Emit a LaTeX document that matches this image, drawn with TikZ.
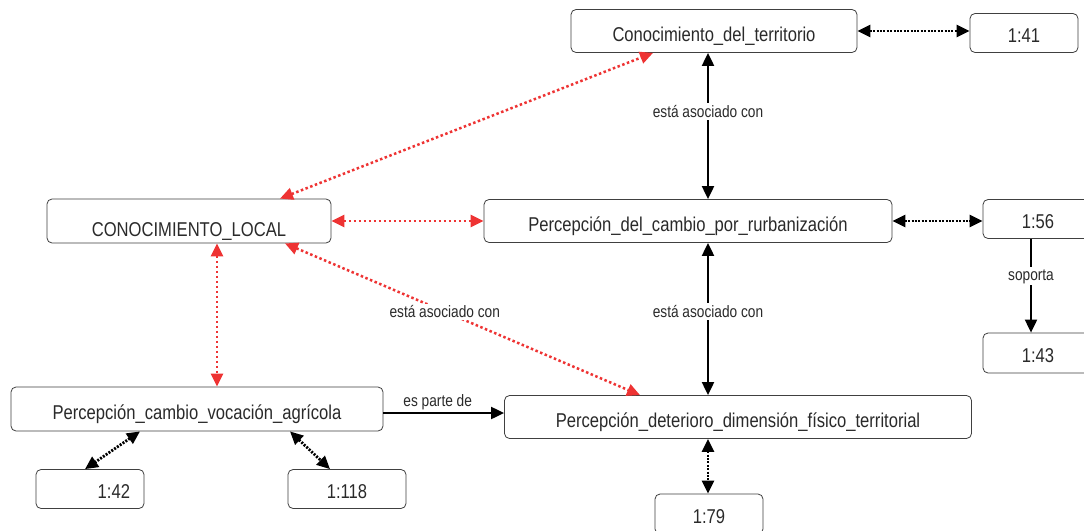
\documentclass[tikz,border=0pt]{standalone}
\usepackage{fontspec}
\setmainfont[FakeStretch=0.83]{Liberation Sans}
\usepackage{tikz}
\usetikzlibrary{arrows.meta,positioning}
\definecolor{relred}{HTML}{EE3333}
\definecolor{ink}{HTML}{2A2A2A}
\newcommand\boxfont{\fontsize{20}{22}\selectfont}
\newcommand\lblfont{\fontsize{16.5}{18}\selectfont}

\begin{document}
\begin{tikzpicture}[x=1pt,y=-1pt,
  bigtri/.tip={Triangle[length=13pt,width=12pt]},
  concept/.style={draw=black!75,rounded corners=5pt,line width=0.8pt,
    minimum height=43pt,inner xsep=6pt,font=\boxfont,text=ink,
    text height=21pt,text depth=0pt},
  quote/.style={concept,minimum height=39pt,text height=18.5pt},
  assoc/.style={bigtri-bigtri,line width=2pt,black},
  dotlink/.style={bigtri-bigtri,line width=2.8pt,black,dash pattern=on 2pt off 1.4pt},
  redlink/.style={bigtri-bigtri,line width=2.5pt,relred,dash pattern=on 2.5pt off 2.5pt},
  lbl/.style={fill=white,inner sep=2pt,font=\lblfont,text=ink}]
    \useasboundingbox[fill=white] (0,0) rectangle (1084,530);

    \node[concept,minimum width=286pt](terr) at (714,31){Conocimiento\_del\_territorio};
    \node[quote,minimum width=108pt](q41) at (1024,33){1:41};
    \node[concept,minimum width=284pt,minimum height=44pt,text height=31pt](local) at (189,221){CONOCIMIENTO\_LOCAL};
    \node[concept,minimum width=408pt](rurb) at (688,221){Percepción\_del\_cambio\_por\_rurbanización};
    \node[quote,minimum width=110pt](q56) at (1038,219){1:56};
    \node[quote,minimum width=110pt,minimum height=40pt](q43) at (1038,353){1:43};
    \node[concept,minimum width=372pt,minimum height=44pt](agri) at (197,409){Percepción\_cambio\_vocación\_agrícola};
    \node[concept,minimum width=467pt](det) at (738,417){Percepción\_deterioro\_dimensión\_físico\_territorial};
    \node[quote,text width=80pt,align=right,inner xsep=14pt](q42) at (90,489){1:42};
    \node[quote,minimum width=118pt](q118) at (347,489){1:118};
    \node[quote,minimum width=108pt,minimum height=40pt](q79) at (709,514){1:79};

    \path (terr.east) edge[dotlink] (terr.east -| q41.west)
          (rurb.east) edge[dotlink] (rurb.east -| q56.west)
          ([xshift=-57pt]agri.south) edge[dotlink] ([xshift=-5pt]q42.north)
          ([xshift=93pt]agri.south) edge[dotlink] ([xshift=-17pt]q118.north)
          ([xshift=-30pt]det.south) edge[dotlink] ([xshift=-1pt]q79.north)
    ;
    \path ([xshift=-6pt]terr.south) edge[assoc] node[lbl,pos=0.4]{está asociado con} ([xshift=20pt]rurb.north)
          ([xshift=20pt]rurb.south) edge[assoc] node[lbl,pos=0.45]{está asociado con} ([xshift=-30pt]det.north)
    ;
    \path ([xshift=91pt]local.north) edge[redlink] ([xshift=-61pt]terr.south)
          (local.east) edge[redlink] (rurb.west)
          ([xshift=96pt]local.south) edge[redlink] node[lbl,pos=0.45]{está asociado con} ([xshift=-98pt]det.north)
          ([xshift=28pt]local.south) edge[redlink] ([xshift=20pt]agri.north)
    ;
    \draw[-bigtri,line width=2pt] ([xshift=-7pt]q56.south) -- node[lbl,pos=0.4]{soporta} ([xshift=-7pt]q43.north);
    \draw[-bigtri,line width=2pt] ([yshift=-4pt]agri.east) -- node[lbl,above,fill=none,pos=0.45]{es parte de} ([yshift=-4pt]agri.east -| det.west);

\end{tikzpicture}
\end{document}
